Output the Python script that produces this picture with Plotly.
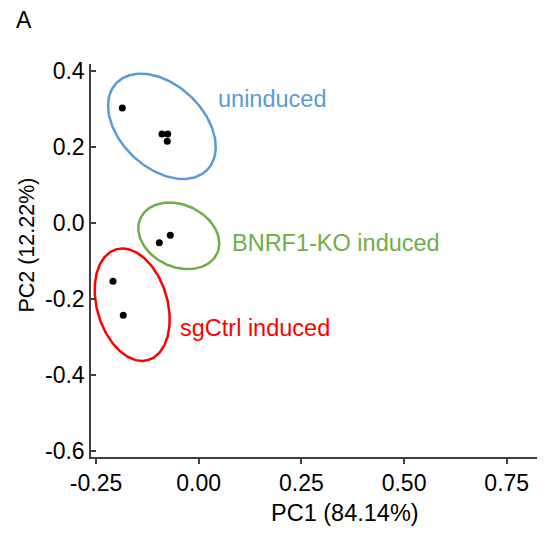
import numpy as np
import plotly.graph_objects as go

# PCA scores per group (PC1, PC2)
groups = ["uninduced", "BNRF1-KO induced", "sgCtrl induced"]
pc1_uninduced = [-0.186, -0.0894, -0.0755, -0.0765]
pc2_uninduced = [0.302, 0.2334, 0.2334, 0.2142]
pc1_ko = [-0.0691, -0.0959]
pc2_ko = [-0.0324, -0.0526]
pc1_ctrl = [-0.2087, -0.1836]
pc2_ctrl = [-0.1534, -0.2429]

x_tickvals = [-0.25, 0.0, 0.25, 0.5, 0.75]
x_ticktext = ["-0.25", "0.00", "0.25", "0.50", "0.75"]
y_tickvals = [0.4, 0.2, 0.0, -0.2, -0.4, -0.6]
y_ticktext = ["0.4", "0.2", "0.0", "-0.2", "-0.4", "-0.6"]

# Group ellipses: centre plus two conjugate semi-axis vectors (data units)
ellipse_center = {
    "uninduced": (-0.0896, 0.2537),
    "BNRF1-KO induced": (-0.0485, -0.0342),
    "sgCtrl induced": (-0.1619, -0.2153),
}
ellipse_u = {
    "uninduced": (0.1113, -0.1134),
    "BNRF1-KO induced": (0.0934, -0.0462),
    "sgCtrl induced": (0.0391, -0.1455),
}
ellipse_v = {
    "uninduced": (-0.0693, -0.0795),
    "BNRF1-KO induced": (-0.0315, -0.0744),
    "sgCtrl induced": (-0.0825, -0.0259),
}

colors = {"uninduced": "#5B9BD5", "BNRF1-KO induced": "#70AD47", "sgCtrl induced": "#FF0000"}
label_pos = {
    "uninduced": (0.041, 0.326),
    "BNRF1-KO induced": (0.0755, -0.0542),
    "sgCtrl induced": (-0.0505, -0.2758),
}

FONT = "Liberation Sans, Arial, Helvetica, sans-serif"
AXIS_COLOR = "#404040"

fig = go.Figure()

t = np.linspace(0, 2 * np.pi, 241)
for g in groups:
    cx, cy = ellipse_center[g]
    ux, uy = ellipse_u[g]
    vx, vy = ellipse_v[g]
    fig.add_trace(go.Scatter(
        x=cx + ux * np.cos(t) + vx * np.sin(t),
        y=cy + uy * np.cos(t) + vy * np.sin(t),
        mode="lines", line=dict(color=colors[g], width=2.5),
        hoverinfo="skip", showlegend=False,
    ))

for xs, ys in [(pc1_uninduced, pc2_uninduced), (pc1_ko, pc2_ko), (pc1_ctrl, pc2_ctrl)]:
    fig.add_trace(go.Scatter(
        x=xs, y=ys, mode="markers",
        marker=dict(color="black", size=7),
        showlegend=False,
    ))

for g in groups:
    lx, ly = label_pos[g]
    fig.add_annotation(x=lx, y=ly, xref="x", yref="y", text=g, showarrow=False,
                       xanchor="left", yanchor="middle",
                       font=dict(family=FONT, size=23.5, color=colors[g]))

# axis titles and panel letter
fig.add_annotation(x=0.3555, y=-0.1434, xref="x", yref="paper", text="PC1 (84.14%)",
                   showarrow=False, xanchor="center", yanchor="middle",
                   font=dict(family=FONT, size=23.5, color="black"))
fig.add_annotation(x=-0.1435, y=0.5404, xref="paper", yref="paper", text="PC2 (12.22%)",
                   showarrow=False, xanchor="center", yanchor="middle", textangle=-90,
                   font=dict(family=FONT, size=21.5, color="black"))
fig.add_annotation(x=-0.1726, y=1.112, xref="paper", yref="paper", text="A",
                   showarrow=False, xanchor="left", yanchor="middle",
                   font=dict(family=FONT, size=23, color="black"))

fig.update_layout(
    width=550, height=533,
    margin=dict(l=91, r=13, t=64, b=76),
    paper_bgcolor="white", plot_bgcolor="white",
    font=dict(family=FONT, size=23, color="black"),
    showlegend=False,
)
fig.update_xaxes(
    range=[-0.2622, 0.8237], tickvals=x_tickvals, ticktext=x_ticktext,
    showgrid=False, zeroline=False, showline=True, linecolor=AXIS_COLOR, linewidth=1.5,
    ticks="outside", ticklen=5, tickwidth=1.5, tickcolor=AXIS_COLOR,
    tickfont=dict(family=FONT, size=23, color="black"),
)
fig.update_yaxes(
    range=[-0.6158, 0.4176], tickvals=y_tickvals, ticktext=y_ticktext,
    showgrid=False, zeroline=False, showline=True, linecolor=AXIS_COLOR, linewidth=1.5,
    ticks="inside", ticklen=5, tickwidth=1.5, tickcolor=AXIS_COLOR,
    tickfont=dict(family=FONT, size=23, color="black"),
)

fig.write_html("out.html")
